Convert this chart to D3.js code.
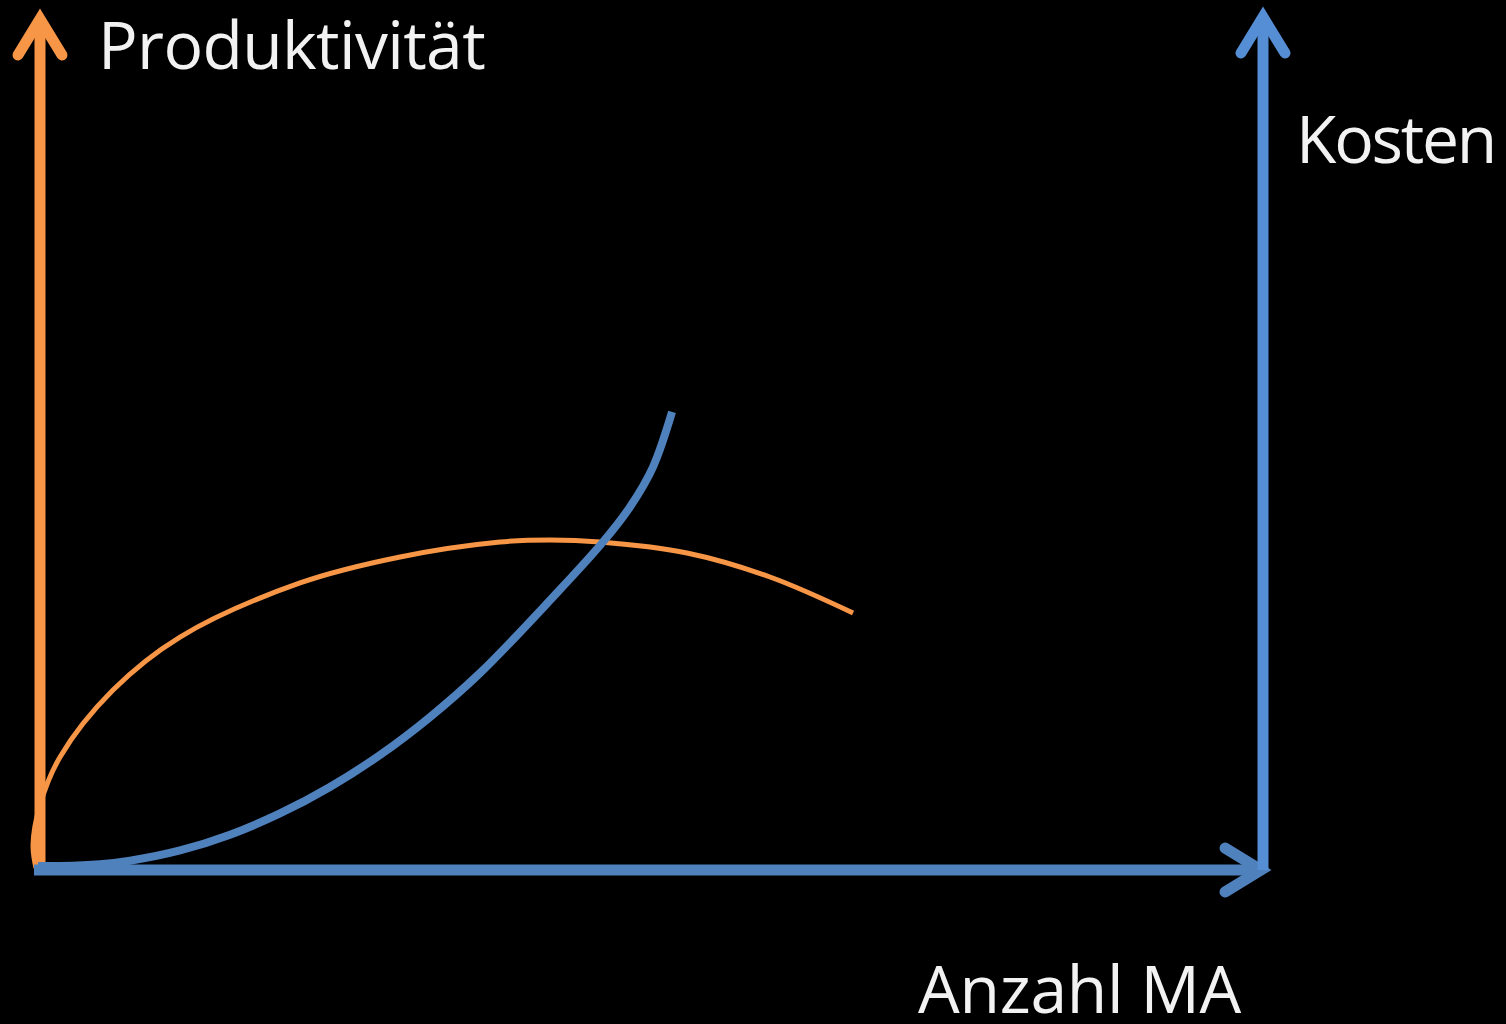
<!DOCTYPE html>
<html>
<head>
<meta charset="utf-8">
<script src="https://cdn.jsdelivr.net/npm/d3@7"></script>
<style>
  html, body { margin: 0; padding: 0; background: #000; }
  svg { display: block; }
</style>
</head>
<body>
<svg id="chart" width="1506" height="1024"></svg>
<script>
// Achsenbeschriftungen
const labelY = "Produktivität";
const labelY2 = "Kosten";
const labelX = "Anzahl MA";

// Produktivität (orange), x = Anzahl MA, y = relative Höhe (0..100)
const prodX = [-0.33, -0.57, 0.0, 1.64, 5.97, 11.45, 21.26, 29.44, 37.61, 41.70, 45.79, 52.90, 59.69, 66.48];
const prodY = [0.23, 2.92, 7.6, 13.22, 21.05, 27.25, 33.57, 36.61, 38.36, 38.60, 38.36, 37.08, 34.27, 30.06];

// Kosten (blau)
const costX = [-0.16, 1.64, 4.91, 7.36, 11.45, 15.54, 19.62, 23.71, 27.80, 31.89, 35.98, 41.95, 46.03, 48.24, 50.12, 51.68];
const costY = [0.47, 0.47, 0.67, 1.09, 2.29, 4.13, 6.61, 9.71, 13.45, 17.89, 23.04, 31.93, 38.36, 42.46, 47.13, 53.57];

/* colours */
const cOrange = "#F79646";
const cBlue = "#4F81BD";
const cBlueLight = "#558ED5";
const cText = "#F2F2F2";

const svg = d3.select("#chart");
const W = +svg.attr("width"), H = +svg.attr("height");
svg.append("rect").attr("width", W).attr("height", H).attr("fill", "#000");

// Plot area
const x0 = 40, x1 = 1263, yBase = 870, yTop = 15;
const x = d3.scaleLinear().domain([0, 100]).range([x0, x1]);
const y = d3.scaleLinear().domain([0, 100]).range([yBase, yTop]);

const g = svg.append("g");

function arrowHead(tipX, tipY, dir, color, w) {
  // dir: "up" or "right"
  const L = 36, S = 22;
  const pts = dir === "up"
    ? [[tipX - S, tipY + L], [tipX, tipY], [tipX + S, tipY + L]]
    : [[tipX - L, tipY - S], [tipX, tipY], [tipX - L, tipY + S]];
  g.append("path")
    .attr("d", d3.line()(pts))
    .attr("fill", "none").attr("stroke", color).attr("stroke-width", w)
    .attr("stroke-linecap", "round").attr("stroke-linejoin", "miter");
}

// Linke Achse (Produktivität)
g.append("line")
  .attr("x1", x(0)).attr("y1", y(0) + 5).attr("x2", x(0)).attr("y2", y(100) + 4)
  .attr("stroke", cOrange).attr("stroke-width", 11);
arrowHead(x(0), y(100) + 4, "up", cOrange, 11);

// Kurven
const line = d3.line().x(d => x(d[0])).y(d => y(d[1])).curve(d3.curveCatmullRom.alpha(0.5));
g.append("path")
  .attr("d", line(prodX.map((v, i) => [v, prodY[i]])))
  .attr("fill", "none").attr("stroke", cOrange).attr("stroke-width", 5);

// X-Achse
g.append("line")
  .attr("x1", x(0) - 6).attr("y1", y(0)).attr("x2", x(100) - 2).attr("y2", y(0))
  .attr("stroke", cBlue).attr("stroke-width", 11);
arrowHead(x(100) - 2, y(0), "right", cBlue, 11);

// Rechte Achse (Kosten)
g.append("line")
  .attr("x1", x(100)).attr("y1", y(0)).attr("x2", x(100)).attr("y2", y(100) + 2)
  .attr("stroke", cBlueLight).attr("stroke-width", 11);
arrowHead(x(100), y(100) + 2, "up", cBlueLight, 11);

// Kostenkurve
g.append("path")
  .attr("d", line(costX.map((v, i) => [v, costY[i]])))
  .attr("fill", "none").attr("stroke", cBlue).attr("stroke-width", 8);

// Beschriftungen (Breite über Zeichenabstand angleichen)
const font = "'Open Sans', 'Liberation Sans', sans-serif";
function label(txt, tx, ty, len) {
  const t = g.append("text")
    .attr("x", tx).attr("y", ty)
    .attr("fill", cText).attr("font-family", font).attr("font-size", 66)
    .text(txt);
  const natural = t.node().getComputedTextLength();
  t.attr("letter-spacing", ((len - natural) / txt.length).toFixed(2));
}
label(labelY, 98, 69, 387);
label(labelY2, 1296, 163, 199);
label(labelX, 918, 1013, 323);
</script>
</body>
</html>
